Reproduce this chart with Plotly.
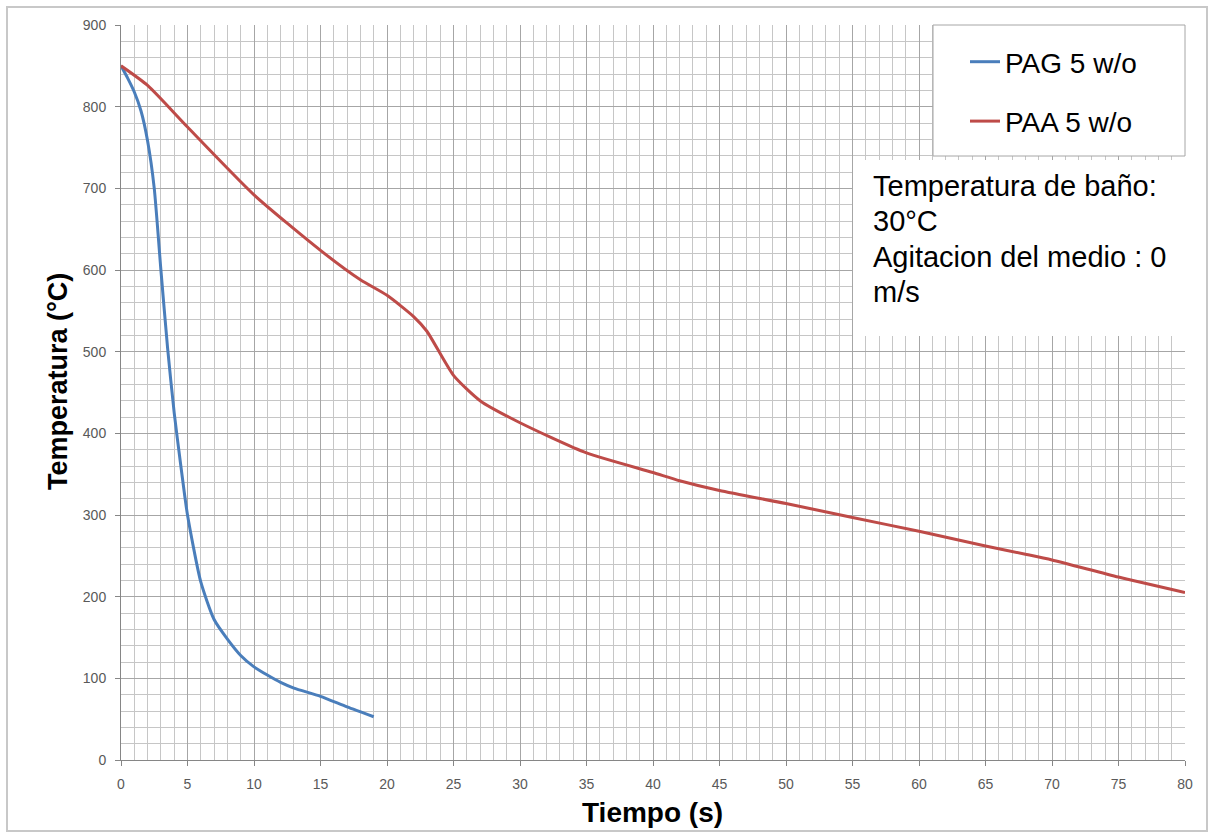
import plotly.graph_objects as go

# PAG 5 w/o (blue)
pag_t = [0, 0.5, 1, 1.5, 2, 2.5, 3, 3.5, 4, 4.5, 5, 6, 7, 8, 9, 10, 11, 12, 13, 15, 17, 19]
pag_T = [850, 835, 818, 795, 758, 700, 600, 505, 425, 360, 300, 218, 172, 148, 128, 114, 104, 95, 88, 78, 65, 53]

# PAA 5 w/o (red)
paa_t = [0, 2, 5, 10, 15, 18, 20, 22, 23, 25, 27, 30, 35, 40, 42, 45, 50, 55, 60, 65, 68, 70, 75, 80]
paa_T = [850, 826, 775, 692, 624, 588, 569, 543, 525, 471, 440, 413, 376, 352, 342, 330, 314, 297, 280, 262, 252, 245, 224, 205]

x_ticks = list(range(0, 81, 5))
y_ticks = list(range(0, 901, 100))

note_lines = ["Temperatura de baño:", "30°C", "Agitacion del medio : 0", "m/s"]

W, H = 1209, 834
L, R, T, B = 121, 1185, 25, 760


def px(x):
    return (x - L) / (R - L)


def py(y):
    return (B - y) / (B - T)


fig = go.Figure()
fig.add_trace(go.Scatter(x=pag_t, y=pag_T, mode="lines", name="PAG 5 w/o",
                         line=dict(color="#4a7ebb", width=3, shape="spline", smoothing=0.6),
                         legendgroup="a"))
fig.add_trace(go.Scatter(x=paa_t, y=paa_T, mode="lines", name="PAA 5 w/o",
                         line=dict(color="#be4b48", width=3, shape="spline", smoothing=0.6),
                         legendgroup="b"))

axis_font = dict(family="Liberation Sans, Arial", size=14, color="#595959")

common = dict(showgrid=True, gridcolor="#a6a6a6", gridwidth=1,
              showline=True, linecolor="#868686", linewidth=1,
              ticks="outside", ticklen=5, tickcolor="#868686",
              tickfont=axis_font, zeroline=False, ticklabelstandoff=6)

fig.update_xaxes(range=[0, 80], tickvals=x_ticks, ticktext=[str(v) for v in x_ticks],
                 minor=dict(dtick=1, tick0=0, showgrid=True, gridcolor="#c6c6c6", gridwidth=1),
                 **common)
fig.update_yaxes(range=[0, 900], tickvals=y_ticks, ticktext=[str(v) for v in y_ticks],
                 minor=dict(dtick=20, tick0=0, showgrid=True, gridcolor="#c6c6c6", gridwidth=1),
                 **common)

shapes = [
    # legend box
    dict(type="rect", xref="paper", yref="paper", x0=px(933), x1=px(1185), y0=py(156), y1=py(25),
         fillcolor="white", line=dict(color="#a6a6a6", width=1), layer="above"),
    # text box
    dict(type="rect", xref="paper", yref="paper", x0=px(853), x1=px(1185), y0=py(336), y1=py(160),
         fillcolor="white", line=dict(width=0), layer="above"),
    # outer border
    dict(type="rect", xref="paper", yref="paper", x0=px(7), x1=px(1207), y0=py(831), y1=py(7),
         fillcolor="rgba(0,0,0,0)", line=dict(color="#c8c8c8", width=2), layer="below"),
]

text_font = dict(family="Liberation Sans, Arial", size=29, color="#000000")
for i, line in enumerate(note_lines):
    fig.add_annotation(xref="paper", yref="paper", x=px(871), y=py(186 + i * 35.3),
                       xanchor="left", yanchor="middle", align="left", showarrow=False,
                       text=line, font=text_font)

title_font = dict(family="Liberation Sans, Arial", size=28, color="#000000")
fig.add_annotation(xref="paper", yref="paper", x=px(652), y=py(813), xanchor="center", yanchor="middle",
                   showarrow=False, text="<b>Tiempo (s)</b>", font=title_font)
fig.add_annotation(xref="paper", yref="paper", x=px(58), y=py(382), xanchor="center", yanchor="middle",
                   showarrow=False, text="<b>Temperatura (°C)</b>", textangle=-90,
                   font=dict(family="Liberation Sans, Arial", size=27, color="#000000"))

fig.update_layout(
    width=W, height=H,
    margin=dict(l=L, r=W - R, t=T, b=H - B),
    paper_bgcolor="white", plot_bgcolor="white",
    shapes=shapes,
    showlegend=True,
    legend=dict(x=px(965), y=py(37), xanchor="left", yanchor="top",
                bgcolor="rgba(0,0,0,0)", borderwidth=0,
                font=dict(family="Liberation Sans, Arial", size=28, color="#000000"),
                traceorder="grouped", tracegroupgap=20, itemwidth=30),
)

fig.write_html("out.html")
